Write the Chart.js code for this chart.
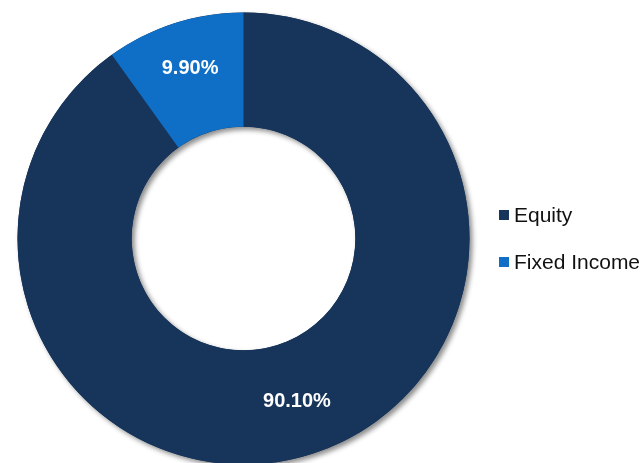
<!DOCTYPE html>
<html>
<head>
<meta charset="utf-8">
<script src="https://cdn.jsdelivr.net/npm/chart.js@4.4.1/dist/chart.umd.min.js"></script>
<style>
  html, body { margin: 0; padding: 0; background: #fff; }
  #wrap { position: relative; width: 644px; height: 463px; overflow: hidden; }
  #legend { position: absolute; left: 499px; top: 203px; font-family: "Liberation Sans", Arial, sans-serif; font-size: 21px; color: #111; }
  .item { display: flex; align-items: center; height: 24px; margin-bottom: 23px; white-space: nowrap; }
  .box { width: 10px; height: 10px; margin-right: 5px; }
</style>
</head>
<body>
<div id="wrap">
  <canvas id="c" width="644" height="470"></canvas>
  <div id="legend"></div>
</div>
<script>
const labels = ['Equity', 'Fixed Income'];
const values = [90.10, 9.90];
const colors = ['#17355A', '#0F6FC6'];

// ring drawn once behind the slices so the drop shadow is cast by the whole donut
const ringShadow = {
  id: 'ringShadow',
  beforeDatasetsDraw(chart) {
    const arc = chart.getDatasetMeta(0).data[0];
    if (!arc) return;
    const { x, y, innerRadius, outerRadius } = arc.getProps(['x', 'y', 'innerRadius', 'outerRadius'], true);
    const ctx = chart.ctx;
    ctx.save();
    ctx.shadowColor = 'rgba(0,0,0,0.45)';
    ctx.shadowBlur = 5;
    ctx.shadowOffsetX = 3;
    ctx.shadowOffsetY = 3;
    ctx.fillStyle = colors[0];
    ctx.beginPath();
    ctx.arc(x, y, outerRadius, 0, Math.PI * 2);
    ctx.arc(x, y, innerRadius, Math.PI * 2, 0, true);
    ctx.fill();
    ctx.restore();
  }
};

const sliceLabels = {
  id: 'sliceLabels',
  afterDatasetsDraw(chart) {
    const ctx = chart.ctx;
    ctx.save();
    ctx.font = 'bold 20px "Liberation Sans", Arial, sans-serif';
    ctx.fillStyle = '#fff';
    ctx.textAlign = 'center';
    ctx.textBaseline = 'middle';
    chart.getDatasetMeta(0).data.forEach((el, i) => {
      const p = el.getProps(['x', 'y', 'startAngle', 'endAngle', 'innerRadius', 'outerRadius'], true);
      const mid = (p.startAngle + p.endAngle) / 2;
      const r = p.innerRadius + (p.outerRadius - p.innerRadius) * 0.55;
      ctx.fillText(values[i].toFixed(2) + '%', p.x + Math.cos(mid) * r, p.y + Math.sin(mid) * r - 3.5);
    });
    ctx.restore();
  }
};

new Chart(document.getElementById('c'), {
  type: 'doughnut',
  data: {
    labels: labels,
    datasets: [{
      data: values,
      backgroundColor: colors,
      borderWidth: 0,
      hoverOffset: 0,
    }]
  },
  options: {
    responsive: false,
    animation: false,
    cutout: '49.5%',
    layout: { padding: { left: 17.5, top: 12.5, right: 174.5, bottom: 5.5 } },
    plugins: {
      legend: { display: false },
      tooltip: { enabled: false },
    }
  },
  plugins: [ringShadow, sliceLabels]
});

const legend = document.getElementById('legend');
labels.forEach((l, i) => {
  const item = document.createElement('div');
  item.className = 'item';
  item.innerHTML = '<span class="box" style="background:' + colors[i] + '"></span><span>' + l + '</span>';
  legend.appendChild(item);
});
</script>
</body>
</html>
